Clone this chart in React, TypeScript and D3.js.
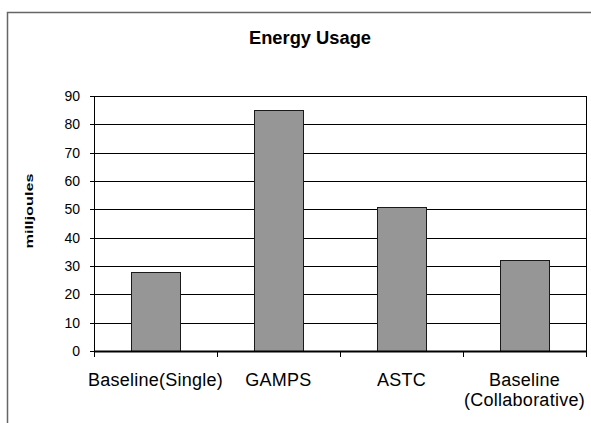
import React from "react";
import * as d3 from "d3";

const categories: string[][] = [
  ["Baseline(Single)"],
  ["GAMPS"],
  ["ASTC"],
  ["Baseline", "(Collaborative)"],
];
const values: number[] = [28, 85, 51, 32];
const yTicks: number[] = [0, 10, 20, 30, 40, 50, 60, 70, 80, 90];
const title = "Energy Usage";
const yLabel = "milljoules";

const W = 591;
const H = 423;
const FONT = "'Liberation Sans', Arial, Helvetica, sans-serif";

export default function App() {
  const left = 94;
  const right = 586;
  const top = 96;
  const bottom = 351;

  const keys = categories.map((c) => c.join(" "));
  const x = d3
    .scaleBand<string>()
    .domain(keys)
    .range([left, right])
    .paddingInner(0.6)
    .paddingOuter(0.3);
  const step = (right - left) / keys.length;
  const y = d3.scaleLinear().domain([0, 90]).range([bottom, top]);

  const boundaries = d3.range(keys.length + 1).map((i) => left + i * step);

  return (
    <svg
      width={W}
      height={H}
      style={{ position: "absolute", left: 0, top: 0, background: "#fff" }}
      fontFamily={FONT}
    >
      <rect x={0} y={0} width={W} height={H} fill="#fff" />
      {/* outer chart border */}
      <rect
        x={7.5}
        y={12.5}
        width={620}
        height={500}
        fill="none"
        stroke="#666"
        strokeWidth={1.5}
      />
      {/* title */}
      <text
        x={310}
        y={44}
        textAnchor="middle"
        fontWeight="bold"
        fontSize={18}
        textLength={122}
        lengthAdjust="spacingAndGlyphs"
        fill="#000"
      >
        {title}
      </text>
      {/* y label */}
      <text
        transform={`translate(33, 211) rotate(-90)`}
        textAnchor="middle"
        fontWeight="bold"
        fontSize={11.5}
        textLength={75}
        lengthAdjust="spacingAndGlyphs"
        fill="#000"
      >
        {yLabel}
      </text>
      {/* gridlines */}
      {yTicks.map((t) => (
        <line
          key={"g" + t}
          x1={left}
          x2={right}
          y1={Math.round(y(t)) + 0.5}
          y2={Math.round(y(t)) + 0.5}
          stroke="#000"
          strokeWidth={1}
        />
      ))}
      {/* right border of plot */}
      <line x1={right + 0.5} x2={right + 0.5} y1={top} y2={bottom} stroke="#000" />
      {/* y ticks and labels */}
      {yTicks.map((t) => (
        <g key={"t" + t}>
          <line
            x1={left - 4}
            x2={left}
            y1={Math.round(y(t)) + 0.5}
            y2={Math.round(y(t)) + 0.5}
            stroke="#000"
          />
          <text
            x={80}
            y={y(t)}
            dy="0.36em"
            textAnchor="end"
            fontSize={14}
            fill="#000"
          >
            {t}
          </text>
        </g>
      ))}
      {/* bars */}
      {values.map((v, i) => (
        <rect
          key={"b" + i}
          x={Math.round(x(keys[i]) as number) + 0.5}
          y={Math.round(y(v)) + 0.5}
          width={Math.round(x.bandwidth())}
          height={Math.round(y(0)) - Math.round(y(v))}
          fill="#969696"
          stroke="#1a1a1a"
          strokeWidth={1}
        />
      ))}
      {/* left axis */}
      <line x1={left + 0.5} x2={left + 0.5} y1={top} y2={bottom + 1} stroke="#000" />
      {/* x axis */}
      <line x1={left} x2={right + 1} y1={bottom + 0.5} y2={bottom + 0.5} stroke="#000" strokeWidth={2} />
      {boundaries.map((bx, i) => (
        <line
          key={"xt" + i}
          x1={Math.round(bx) + 0.5}
          x2={Math.round(bx) + 0.5}
          y1={bottom}
          y2={bottom + 6}
          stroke="#000"
        />
      ))}
      {/* category labels */}
      {categories.map((lines, i) => (
        <text
          key={"c" + i}
          x={(x(keys[i]) as number) + x.bandwidth() / 2}
          y={385.5}
          textAnchor="middle"
          fontSize={18}
          letterSpacing={0.25}
          fill="#000"
        >
          {lines.map((ln, j) => (
            <tspan
              key={j}
              x={(x(keys[i]) as number) + x.bandwidth() / 2}
              dy={j === 0 ? 0 : 20.5}
            >
              {ln}
            </tspan>
          ))}
        </text>
      ))}
    </svg>
  );
}
